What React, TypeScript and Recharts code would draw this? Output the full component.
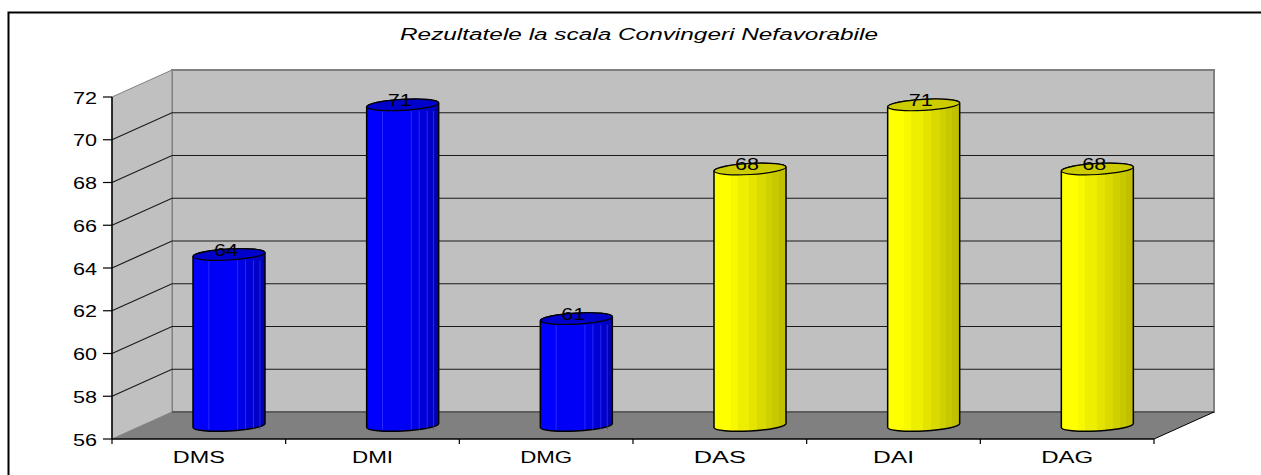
import { BarChart, Bar, XAxis, YAxis, LabelList, Customized } from "recharts";

const categories = ["DMS", "DMI", "DMG", "DAS", "DAI", "DAG"];
const values = [64, 71, 61, 68, 71, 68];
const groups = ["blue", "blue", "blue", "yellow", "yellow", "yellow"];
const yTicks = [56, 58, 60, 62, 64, 66, 68, 70, 72];

const data = categories.map((name, i) => ({ name, value: values[i], group: groups[i] }));

const WIDTH = 1261;
const HEIGHT = 475;
const LEFT = 112;
const RIGHT = 1154;
const TOP = 97;
const BOTTOM = 439;
// oblique offset of the back wall
const DX = 60;
const DY = -27;
const CAT_W = (RIGHT - LEFT) / categories.length;
const TILT = -3.2;
const FONT = "Liberation Sans, Arial, sans-serif";

const blueStops = [0, 0.22, 0.62, 0.73, 0.84, 0.93, 1];
const blueBands = ["#0000ff", "#0000f6", "#0000e6", "#0000d6", "#0000c6", "#0000b6"];
const yellowStops = [0, 0.23, 0.33, 0.49, 0.6, 0.72, 0.81, 0.9, 1];
const yellowBands = ["#ffff00", "#f8f800", "#eeee00", "#e4e400", "#dada00", "#d0d000", "#c8c800", "#c0c000"];

function BandGradient({ id, stops, colors }: { id: string; stops: number[]; colors: string[] }) {
  return (
    <linearGradient id={id} x1="0" y1="0" x2="1" y2="0">
      {colors.flatMap((c, i) => [
        <stop key={i + "a"} offset={stops[i]} stopColor={c} />,
        <stop key={i + "b"} offset={stops[i + 1]} stopColor={c} />,
      ])}
    </linearGradient>
  );
}

/** walls, floor, grid and frame of the fake 3D box */
function Box() {
  const bx = LEFT + DX;
  const bxr = RIGHT + DX;
  const by = TOP + DY;
  const byb = BOTTOM + DY;
  const tickY = (v: number) => BOTTOM - ((v - 56) / 16) * (BOTTOM - TOP);
  return (
    <g>
      <defs>
        <BandGradient id="blueBody" stops={blueStops} colors={blueBands} />
        <BandGradient id="yellowBody" stops={yellowStops} colors={yellowBands} />
      </defs>
      <path d={`M8.5 475 V12.5 H${WIDTH}`} fill="none" stroke="#000" strokeWidth={2} />
      <text x={639} y={40} fontFamily={FONT} fontStyle="italic" fontSize={16} textAnchor="middle" textLength={478} lengthAdjust="spacingAndGlyphs" fill="#000">
        Rezultatele la scala Convingeri Nefavorabile
      </text>
      <rect x={bx} y={by} width={bxr - bx} height={byb - by} fill="#c0c0c0" stroke="#808080" strokeWidth={2} />
      <path d={`M${LEFT} ${TOP} L${bx} ${by} V${byb} L${LEFT} ${BOTTOM} Z`} fill="#c0c0c0" stroke="#808080" strokeWidth={1} />
      <path d={`M${LEFT} ${BOTTOM} L${bx} ${byb} H${bxr} L${RIGHT} ${BOTTOM} Z`} fill="#808080" />
      <path d={`M${bx} ${byb} H${bxr}`} stroke="#505050" strokeWidth={1.5} fill="none" />
      <path d={`M${RIGHT} ${BOTTOM} L${bxr} ${byb}`} stroke="#000" strokeWidth={1} fill="none" />
      {yTicks.slice(1, -1).map((v) => (
        <path
          key={v}
          d={`M${LEFT} ${tickY(v)} L${bx} ${tickY(v) + DY} H${bxr}`}
          fill="none"
          stroke="#1a1a1a"
          strokeWidth={1.2}
        />
      ))}
    </g>
  );
}

function Cylinder(props: any) {
  const { x, y, width, height, payload } = props;
  const isBlue = payload.group === "blue";
  const left = x + DX / 2;
  const right = left + width;
  const cx = left + width / 2;
  const top = y + DY / 2;
  const base = top + height;
  const rx = width / 2;
  const ry = 5.5;
  const lift = rx * Math.sin((-TILT * Math.PI) / 180);
  const seams = blueStops.slice(1, -1);
  return (
    <g>
      <path
        d={`M${left} ${top + lift} V${base + lift} A${rx} ${ry} ${TILT} 0 0 ${right} ${base - lift} V${top - lift} A${rx} ${ry} ${TILT} 0 0 ${left} ${top + lift} Z`}
        fill={isBlue ? "url(#blueBody)" : "url(#yellowBody)"}
        stroke="#000"
        strokeWidth={1.5}
      />
      {isBlue &&
        seams.map((s) => (
          <line
            key={s}
            x1={left + s * width}
            x2={left + s * width}
            y1={top + 6}
            y2={base + 4}
            stroke="#3a3aff"
            strokeWidth={0.7}
          />
        ))}
      <ellipse
        cx={cx}
        cy={top}
        rx={rx}
        ry={ry}
        transform={`rotate(${TILT} ${cx} ${top})`}
        fill={isBlue ? "#0000cc" : "#cccc00"}
        stroke="#000"
        strokeWidth={1.2}
      />
    </g>
  );
}

function ValueLabel(props: any) {
  const { x, y, width, value } = props;
  return (
    <text
      x={x + DX / 2 + width / 2 - 3}
      y={y + DY / 2 + 1}
      fontFamily={FONT}
      fontSize={16}
      textAnchor="middle"
      textLength={24}
      lengthAdjust="spacingAndGlyphs"
      fill="#000"
    >
      {value}
    </text>
  );
}

function YTick(props: any) {
  const { y, payload } = props;
  return (
    <text x={97} y={y + 6.5} fontFamily={FONT} fontSize={16} textAnchor="end" textLength={24} lengthAdjust="spacingAndGlyphs" fill="#000">
      {payload.value}
    </text>
  );
}

function XTick(props: any) {
  const { x, payload, index } = props;
  const w = payload.value === "DMI" || payload.value === "DAI" ? 41 : 52;
  return (
    <g>
      <line x1={x - CAT_W / 2} x2={x - CAT_W / 2} y1={BOTTOM} y2={BOTTOM + 5} stroke="#000" strokeWidth={1.2} />
      {index === categories.length - 1 && (
        <line x1={x + CAT_W / 2} x2={x + CAT_W / 2} y1={BOTTOM} y2={BOTTOM + 5} stroke="#000" strokeWidth={1.2} />
      )}
      <text x={x} y={462.5} fontFamily={FONT} fontSize={16} textAnchor="middle" textLength={w} lengthAdjust="spacingAndGlyphs" fill="#000">
        {payload.value}
      </text>
    </g>
  );
}

export default function App() {
  return (
    <div style={{ position: "absolute", left: 0, top: 0, width: WIDTH, height: HEIGHT, background: "#fff" }}>
      <BarChart
        width={WIDTH}
        height={HEIGHT}
        data={data}
        margin={{ top: TOP, right: WIDTH - RIGHT, bottom: 0, left: 0 }}
      >
        <Customized component={Box} />
        <XAxis
          dataKey="name"
          height={HEIGHT - BOTTOM}
          interval={0}
          tick={<XTick />}
          tickLine={false}
          axisLine={{ stroke: "#000", strokeWidth: 1.5 }}
        />
        <YAxis
          domain={[56, 72]}
          ticks={yTicks}
          width={LEFT}
          tick={<YTick />}
          tickSize={9}
          tickLine={{ stroke: "#000", strokeWidth: 1.2 }}
          axisLine={{ stroke: "#000", strokeWidth: 1.5 }}
        />
        <Bar dataKey="value" barSize={72} shape={<Cylinder />} isAnimationActive={false}>
          <LabelList dataKey="value" content={<ValueLabel />} />
        </Bar>
      </BarChart>
    </div>
  );
}
